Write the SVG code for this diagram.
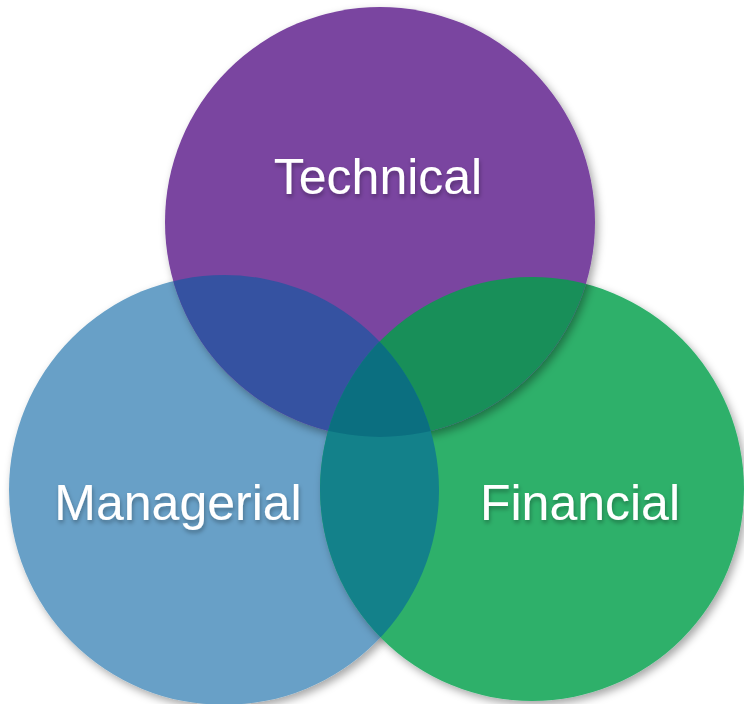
<svg xmlns="http://www.w3.org/2000/svg" width="744" height="704" viewBox="0 0 744 704">
  <style>
    .lbl { font-family: "Liberation Sans", Arial, sans-serif; font-size: 50px; fill: #ffffff; text-anchor: middle; filter: url(#tshadow); }
  </style>
  <defs>
    <filter id="shadow" x="-10%" y="-10%" width="125%" height="125%">
      <feDropShadow dx="3" dy="4" stdDeviation="4" flood-color="#000" flood-opacity="0.35"/>
    </filter>
    <filter id="tshadow" x="-10%" y="-20%" width="120%" height="150%">
      <feDropShadow dx="1" dy="3" stdDeviation="2" flood-color="#000" flood-opacity="0.3"/>
    </filter>
    <clipPath id="clipT"><circle cx="380" cy="222" r="215"/></clipPath>
    <clipPath id="clipM"><circle cx="224" cy="490" r="215"/></clipPath>
    <clipPath id="clipF"><circle cx="532" cy="489" r="212"/></clipPath>
  </defs>
  <rect width="744" height="704" fill="#ffffff"/>

  <g id="managerial">
    <circle cx="224" cy="490" r="215" fill="#67A0C7" filter="url(#shadow)"/>
  </g>
  <g id="financial">
    <circle cx="532" cy="489" r="212" fill="#2DB06B" filter="url(#shadow)"/>
  </g>
  <g id="technical">
    <circle cx="380" cy="222" r="215" fill="#7A44A0" filter="url(#shadow)"/>
  </g>

  <g id="overlaps">
    <circle cx="224" cy="490" r="215" fill="#3552A1" clip-path="url(#clipT)"/>
    <circle cx="532" cy="489" r="212" fill="#188F59" clip-path="url(#clipT)"/>
    <circle cx="532" cy="489" r="212" fill="#13818A" clip-path="url(#clipM)"/>
    <g clip-path="url(#clipT)">
      <circle cx="532" cy="489" r="212" fill="#0B6F80" clip-path="url(#clipM)"/>
    </g>
  </g>

  <g id="labels">
    <text class="lbl" x="378" y="194">Technical</text>
    <text class="lbl" x="178" y="520">Managerial</text>
    <text class="lbl" x="580" y="520">Financial</text>
  </g>
</svg>
